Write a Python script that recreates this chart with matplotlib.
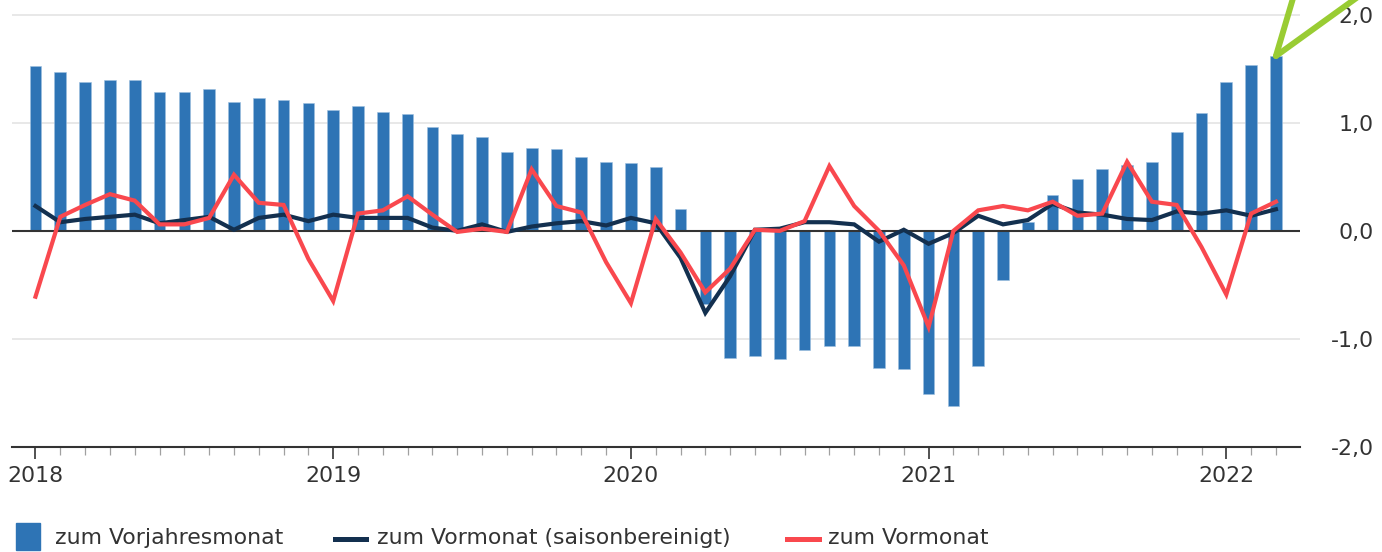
import matplotlib
matplotlib.use("Agg")
import matplotlib.pyplot as plt
import numpy as np
from matplotlib.patches import Rectangle
from matplotlib.lines import Line2D

# ---- data (Jan 2018 .. Mar 2022, monthly) ----
yoy = [1.53, 1.47, 1.38, 1.40, 1.40, 1.29, 1.29, 1.31, 1.19, 1.23, 1.21, 1.18,
       1.12, 1.16, 1.10, 1.08, 0.96, 0.90, 0.87, 0.73, 0.77, 0.76, 0.68, 0.64,
       0.63, 0.59, 0.20, -0.68, -1.18, -1.16, -1.19, -1.10, -1.07, -1.07, -1.27, -1.28,
       -1.51, -1.62, -1.25, -0.46, 0.08, 0.33, 0.48, 0.57, 0.61, 0.64, 0.92, 1.09,
       1.38, 1.54, 1.62]
mom_sa = [0.23, 0.08, 0.11, 0.13, 0.15, 0.07, 0.10, 0.13, 0.01, 0.12, 0.15, 0.09,
          0.15, 0.12, 0.12, 0.12, 0.03, 0.00, 0.06, -0.01, 0.04, 0.07, 0.09, 0.05,
          0.12, 0.07, -0.25, -0.76, -0.42, 0.01, 0.02, 0.08, 0.08, 0.06, -0.10, 0.01,
          -0.12, -0.02, 0.14, 0.06, 0.10, 0.25, 0.17, 0.15, 0.11, 0.10, 0.18, 0.16,
          0.19, 0.14, 0.20]
mom = [-0.61, 0.13, 0.24, 0.34, 0.28, 0.06, 0.06, 0.12, 0.52, 0.26, 0.24, -0.26,
       -0.65, 0.16, 0.19, 0.32, 0.15, -0.01, 0.02, -0.01, 0.57, 0.23, 0.17, -0.29,
       -0.67, 0.11, -0.20, -0.57, -0.35, 0.01, 0.00, 0.09, 0.60, 0.23, 0.00, -0.32,
       -0.89, 0.00, 0.19, 0.23, 0.19, 0.27, 0.14, 0.16, 0.64, 0.27, 0.24, -0.15,
       -0.59, 0.16, 0.27]
year_labels = ["2018", "2019", "2020", "2021", "2022"]
y_ticks = [-2.0, -1.0, 0.0, 1.0, 2.0]
legend_labels = ["zum Vorjahresmonat", "zum Vormonat (saisonbereinigt)", "zum Vormonat"]

C_BAR = "#2e74b5"
C_SA = "#13304f"
C_MOM = "#f9484e"
C_TXT = "#333333"
C_GREEN = "#99cc33"

plt.rcParams["font.family"] = ["DejaVu Sans"]
FS = 15.8

W, H = 1382, 552
fig = plt.figure(figsize=(W / 100, H / 100), dpi=100)
ax_l, ax_r, ax_b, ax_t = 12, 1300, 446.7, 0
ax = fig.add_axes([ax_l / W, 1 - ax_b / H, (ax_r - ax_l) / W, (ax_b - ax_t) / H])

x = np.arange(len(yoy))
ax.bar(x, yoy, width=0.47, color=C_BAR, edgecolor="#9dbfe0", linewidth=0.4, zorder=2)
ax.axhline(0, color="#333333", lw=1.5, zorder=3)
ax.plot(x, mom_sa, color=C_SA, lw=3.0, zorder=4, solid_joinstyle="miter")
ax.plot(x, mom, color=C_MOM, lw=3.0, zorder=5, solid_joinstyle="miter")

# green pointer lines at last bar
for dx, dy in [(26, 88), (122, 88)]:
    ax.annotate("", xy=(x[-1], yoy[-1]), xytext=(dx, dy), textcoords="offset pixels",
                arrowprops=dict(arrowstyle="-", color=C_GREEN, lw=4.3,
                                shrinkA=0, shrinkB=0),
                annotation_clip=False, zorder=6)

ax.set_xlim(-0.947, 50.97)
ax.set_ylim(-2.0, 2.139)

# grid
for v in y_ticks:
    if v not in (0.0, -2.0):
        ax.axhline(v, color="#e2e2e2", lw=1.1, zorder=1)

for s in ["top", "left", "right"]:
    ax.spines[s].set_visible(False)
ax.spines["bottom"].set_color("#333333")
ax.spines["bottom"].set_linewidth(1.5)

ax.set_xticks(x[::12])
ax.set_xticklabels(year_labels)
ax.set_xticks(x, minor=True)
ax.tick_params(axis="x", which="major", length=8.6, width=1.2, color="#333333",
               labelsize=FS, labelcolor=C_TXT, pad=5)
ax.tick_params(axis="x", which="minor", length=5.8, width=0.9, color="#a0a0a0")

ax.yaxis.tick_right()
ax.set_yticks(y_ticks)
ax.set_yticklabels([f"{v:.1f}".replace(".", ",") for v in y_ticks])
ax.tick_params(axis="y", length=0, labelsize=FS, labelcolor=C_TXT, pad=53)
for t in ax.get_yticklabels():
    t.set_horizontalalignment("right")

# legend (manual layout)
ly = 1 - 538 / H
fig.patches.append(Rectangle((15.9 / W, 1 - 550 / H), 23.7 / W, 27 / H,
                             transform=fig.transFigure, color=C_BAR))
fig.text(54.6 / W, ly, legend_labels[0], fontsize=FS, color=C_TXT, va="center")
fig.lines.append(Line2D([335 / W, 366 / W], [1 - 539 / H] * 2, transform=fig.transFigure,
                        color=C_SA, lw=3.6))
fig.text(377 / W, ly, legend_labels[1], fontsize=FS, color=C_TXT, va="center")
fig.lines.append(Line2D([787 / W, 819 / W], [1 - 539 / H] * 2, transform=fig.transFigure,
                        color=C_MOM, lw=3.6))
fig.text(828 / W, ly, legend_labels[2], fontsize=FS, color=C_TXT, va="center")

fig.savefig("out.png", dpi=100)
